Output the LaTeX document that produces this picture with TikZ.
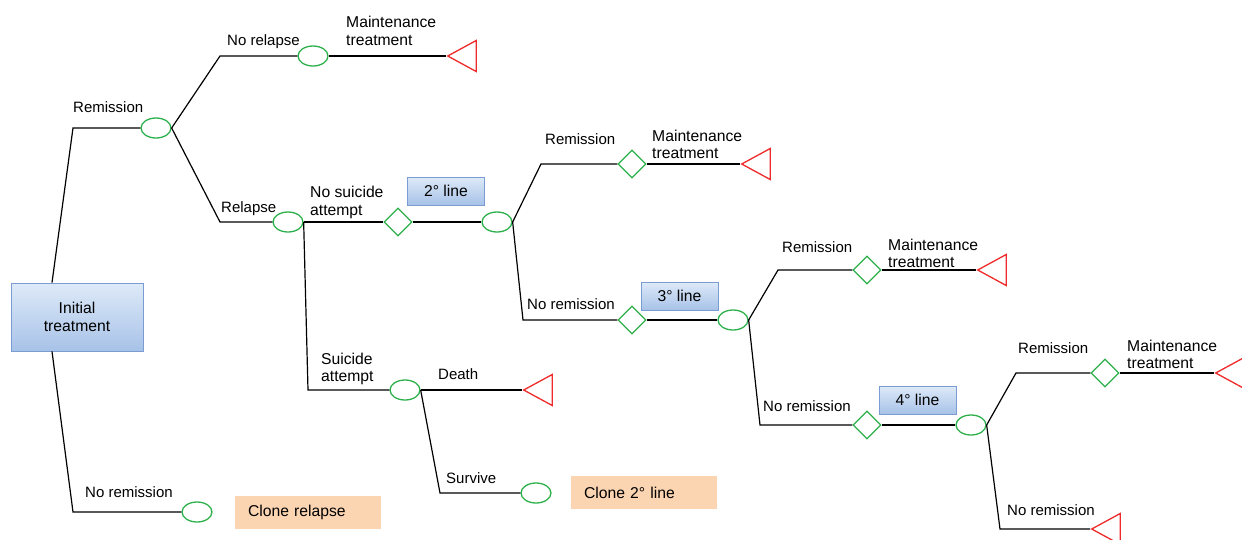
\documentclass[tikz,border=0pt]{standalone}
\usepackage{fontspec}
\setmainfont{Liberation Sans}
\usetikzlibrary{shapes.geometric}
\definecolor{chgreen}{HTML}{2DB04B}
\definecolor{trired}{HTML}{EE2A2A}
\definecolor{boxtop}{HTML}{DEEAF8}
\definecolor{boxbot}{HTML}{A7C2E8}
\definecolor{boxline}{HTML}{7A9CD3}
\definecolor{clonefill}{HTML}{FBD5B2}
\begin{document}
\begin{tikzpicture}[x=1pt,y=-1pt,
 chance/.style={ellipse, draw=chgreen, line width=1.3pt, minimum width=30pt, minimum height=20pt, inner sep=0},
 decision/.style={diamond, draw=chgreen, line width=1.3pt, minimum width=28pt, minimum height=28pt, inner sep=0},
 terminal/.style={isosceles triangle, shape border rotate=180, isosceles triangle stretches, draw=trired, line width=1.3pt, minimum width=31pt, minimum height=28.5pt, inner sep=0, anchor=apex},
 linebox/.style={draw=boxline, line width=0.8pt, top color=boxtop, bottom color=boxbot, minimum width=77pt, minimum height=28pt, inner sep=0, font=\fontsize{15.7}{18}\selectfont},
 clonebox/.style={fill=clonefill, text width=120pt, align=left, inner xsep=13pt, inner ysep=0pt, minimum height=33pt, font=\fontsize{15.7}{18}\selectfont},
 lbl/.style={inner sep=0, anchor=base west, font=\fontsize{15}{17.5}\selectfont},
 mlbl/.style={inner sep=0, anchor=north west, align=left, font=\fontsize{15.7}{17.5}\selectfont},
 conn/.style={draw=black, line width=1.2pt}]
\path[use as bounding box] (0,0) rectangle (1242,539);

% nodes
\node[linebox, minimum width=132pt, minimum height=68pt, align=center] (init) at (77,317) {Initial\\treatment};
\node[chance] (ch1) at (156,128) {};
\node[chance] (ch2) at (313,56) {};
\node[terminal] (tri1) at (446,56) {};
\node[chance] (ch3) at (288,222) {};
\node[decision] (dec1) at (398,222) {};
\node[linebox] (box2) at (446,191) {2° line};
\node[chance] (ch4) at (497,222) {};
\node[decision] (dec2) at (632,164) {};
\node[terminal] (tri2) at (740,164) {};
\node[decision] (dec3) at (632,320) {};
\node[linebox] (box3) at (679.5,296) {3° line};
\node[chance] (ch5) at (733,320) {};
\node[decision] (dec4) at (867,270) {};
\node[terminal] (tri3) at (976,270) {};
\node[decision] (dec5) at (867,425) {};
\node[linebox] (box4) at (917.5,400) {4° line};
\node[chance] (ch6) at (971,425) {};
\node[decision] (dec6) at (1105,373) {};
\node[terminal] (tri4) at (1214,373) {};
\node[terminal] (tri5) at (1090,529) {};
\node[chance] (ch7) at (405,390) {};
\node[terminal] (tri6) at (522,390) {};
\node[chance] (ch8) at (536,493) {};
\node[clonebox] (clone2) at (644,492.5) {Clone 2° line};
\node[chance] (ch9) at (197,512) {};
\node[clonebox] (clone1) at (308,512.5) {Clone relapse};

% bend points
\coordinate (b1) at (73,128);
\coordinate (b2) at (220,56);
\coordinate (b3) at (220,222);
\coordinate (b4) at (308,390);
\coordinate (b5) at (541,164);
\coordinate (b6) at (523,320);
\coordinate (b7) at (778,270);
\coordinate (b8) at (760,425);
\coordinate (b9) at (1016,373);
\coordinate (b10) at (1000,529);
\coordinate (b11) at (440,493);
\coordinate (b12) at (73,512);

% connectors
\draw[conn] ([xshift=-25pt]init.north) -- (b1) -- (ch1.west);
\draw[conn] ([xshift=-25pt]init.south) -- (b12) -- (ch9.west);
\draw[conn] (ch1.east) -- (b2) -- (ch2.west);
\draw[conn] (ch2.east) -- (tri1.apex);
\draw[conn] (ch1.east) -- (b3) -- (ch3.west);
\draw[conn] (ch3.east) -- (dec1.west);
\draw[conn] (dec1.east) -- (ch4.west);
\draw[conn] (ch3.east) -- (b4) -- (ch7.west);
\draw[conn] (ch4.east) -- (b5) -- (dec2.west);
\draw[conn] (dec2.east) -- (tri2.apex);
\draw[conn] (ch4.east) -- (b6) -- (dec3.west);
\draw[conn] (dec3.east) -- (ch5.west);
\draw[conn] (ch5.east) -- (b7) -- (dec4.west);
\draw[conn] (dec4.east) -- (tri3.apex);
\draw[conn] (ch5.east) -- (b8) -- (dec5.west);
\draw[conn] (dec5.east) -- (ch6.west);
\draw[conn] (ch6.east) -- (b9) -- (dec6.west);
\draw[conn] (dec6.east) -- (tri4.apex);
\draw[conn] (ch6.east) -- (b10) -- (tri5.apex);
\draw[conn] (ch7.east) -- (tri6.apex);
\draw[conn] (ch7.east) -- (b11) -- (ch8.west);

% labels
\node[lbl] (l1) at (73,112) {Remission};
\node[lbl] (l2) at (227,45) {No relapse};
\node[mlbl] (l3) at (346,16) {Maintenance\\treatment};
\node[lbl] (l4) at (221,212) {Relapse};
\node[mlbl] (l5) at (310,186) {No suicide\\attempt};
\node[lbl] (l6) at (545,144.5) {Remission};
\node[mlbl] (l7) at (652,129.5) {Maintenance\\treatment};
\node[lbl] (l8) at (527,309.5) {No remission};
\node[lbl] (l9) at (782,252.5) {Remission};
\node[mlbl] (l10) at (888,238.5) {Maintenance\\treatment};
\node[lbl] (l11) at (763,411.5) {No remission};
\node[lbl] (l12) at (1018,353.5) {Remission};
\node[mlbl] (l13) at (1127,339.5) {Maintenance\\treatment};
\node[lbl] (l14) at (1007,515.5) {No remission};
\node[mlbl] (l15) at (321,352.5) {Suicide\\attempt};
\node[lbl] (l16) at (438,379.5) {Death};
\node[lbl] (l17) at (446,483.5) {Survive};
\node[lbl] (l18) at (85,497.5) {No remission};
\end{tikzpicture}
\end{document}
